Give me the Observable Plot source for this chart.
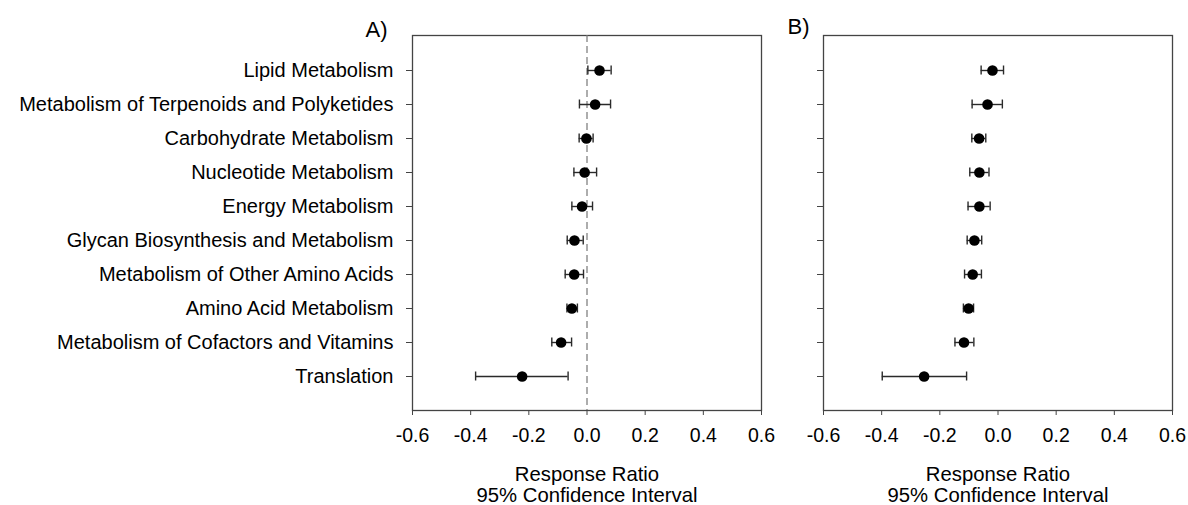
<!DOCTYPE html>
<html>
<head>
<meta charset="utf-8">
<script src="https://cdn.jsdelivr.net/npm/d3@7"></script>
<script src="https://cdn.jsdelivr.net/npm/@observablehq/plot@0.6"></script>
<style>
  html, body { margin: 0; padding: 0; background: #fff; }
  #wrap { display: flex; flex-direction: row; width: 1188px; height: 505px; }
  #wrap svg { max-width: none !important; display: block; overflow: visible; }
</style>
</head>
<body>
<div id="wrap"></div>
<script>
const categories = [
  "Lipid Metabolism",
  "Metabolism of Terpenoids and Polyketides",
  "Carbohydrate Metabolism",
  "Nucleotide Metabolism",
  "Energy Metabolism",
  "Glycan Biosynthesis and Metabolism",
  "Metabolism of Other Amino Acids",
  "Amino Acid Metabolism",
  "Metabolism of Cofactors and Vitamins",
  "Translation"
];
// Panel A
const aMean = [0.043, 0.028, -0.002, -0.008, -0.017, -0.043, -0.044, -0.052, -0.089, -0.223];
const aLow  = [0.003, -0.026, -0.027, -0.045, -0.052, -0.068, -0.075, -0.069, -0.121, -0.383];
const aHigh = [0.083, 0.081, 0.021, 0.033, 0.019, -0.013, -0.012, -0.033, -0.053, -0.065];
// Panel B
const bMean = [-0.019, -0.036, -0.065, -0.064, -0.064, -0.081, -0.087, -0.101, -0.117, -0.254];
const bLow  = [-0.058, -0.089, -0.090, -0.097, -0.103, -0.106, -0.115, -0.119, -0.148, -0.398];
const bHigh = [0.019, 0.015, -0.042, -0.031, -0.027, -0.056, -0.057, -0.084, -0.083, -0.108];

const xTicks = [-0.6, -0.4, -0.2, 0.0, 0.2, 0.4, 0.6];
const axisTitle = "Response Ratio\n95% Confidence Interval";
const panelLabels = ["A)", "B)"];

function rows(mean, lo, hi) {
  return categories.map((c, i) => ({cat: c, mean: mean[i], lo: lo[i], hi: hi[i]}));
}

const FONT = "'Liberation Sans', Arial, sans-serif";
const INK = "#2a2a2a";

function panel({data, width, marginLeft, marginRight, showLabels, zeroLine, label, labelDx, labelDy}) {
  const marks = [
    Plot.frame({stroke: "#444", strokeWidth: 1.3})
  ];
  if (zeroLine) marks.push(Plot.ruleX([0], {stroke: "#777", strokeWidth: 1.2, strokeDasharray: "7,4"}));
  marks.push(
    Plot.ruleY(data, {y: "cat", x1: "lo", x2: "hi", stroke: INK, strokeWidth: 1.4}),
    Plot.tickX(data, {y: "cat", x: "lo", stroke: INK, strokeWidth: 1.4, insetTop: 12.5, insetBottom: 12.5}),
    Plot.tickX(data, {y: "cat", x: "hi", stroke: INK, strokeWidth: 1.4, insetTop: 12.5, insetBottom: 12.5}),
    Plot.dot(data, {y: "cat", x: "mean", r: 5.3, fill: "#000", stroke: "none"}),
    Plot.axisY({
      tickSize: 6, tickPadding: 13, stroke: "#444", fontSize: 20,
      tickFormat: showLabels ? (d => d) : (() => "")
    }),
    Plot.axisX({
      ticks: xTicks, tickSize: 5, tickPadding: 13, stroke: "#444", fontSize: 19.5,
      tickFormat: d => d.toFixed(1)
    }),
    Plot.text([axisTitle], {
      frameAnchor: "bottom", lineAnchor: "top", dy: 55, fontSize: 20.3, lineHeight: 1.04,
      text: d => d, fill: "#000"
    }),
    Plot.text([label], {
      frameAnchor: "top-left", textAnchor: "start", lineAnchor: "bottom",
      dx: labelDx, dy: labelDy, fontSize: 22, text: d => d, fill: "#000"
    })
  );
  return Plot.plot({
    width, height: 505,
    marginTop: 35, marginBottom: 95, marginLeft, marginRight,
    style: {fontFamily: FONT, fontSize: "20px", color: "#000", background: "transparent", overflow: "visible"},
    x: {domain: [-0.6, 0.6], label: null},
    y: {domain: categories, type: "band", paddingInner: 0, paddingOuter: 0.5, label: null},
    marks
  });
}

const wrap = document.getElementById("wrap");
wrap.appendChild(panel({
  data: rows(aMean, aLow, aHigh), width: 778, marginLeft: 412, marginRight: 17,
  showLabels: true, zeroLine: true, label: panelLabels[0], labelDx: -47, labelDy: 1
}));
wrap.appendChild(panel({
  data: rows(bMean, bLow, bHigh), width: 410, marginLeft: 45, marginRight: 16,
  showLabels: false, zeroLine: false, label: panelLabels[1], labelDx: -36, labelDy: -2
}));
</script>
</body>
</html>
